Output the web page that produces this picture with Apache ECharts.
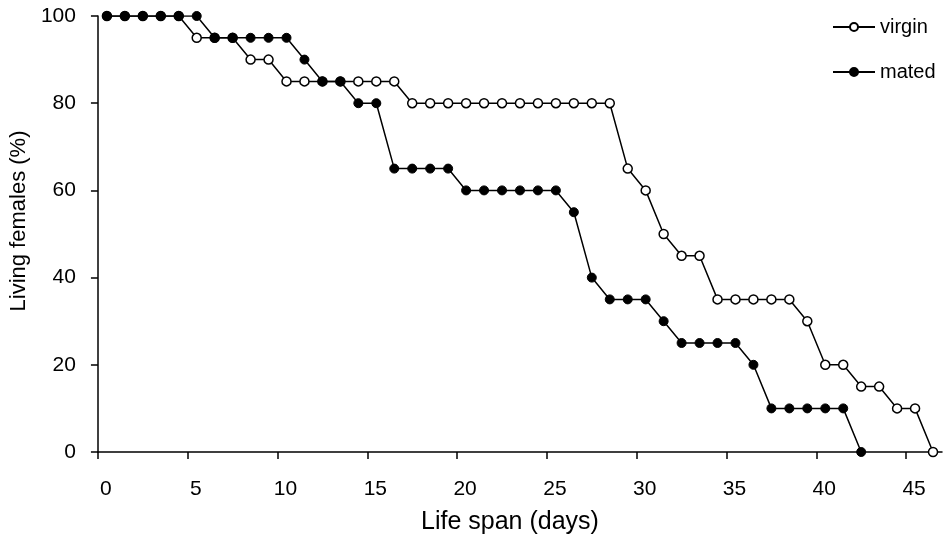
<!DOCTYPE html>
<html>
<head>
<meta charset="utf-8">
<script src="https://cdn.jsdelivr.net/npm/echarts@6/dist/echarts.min.js"></script>
<style>
  html, body { margin: 0; padding: 0; background: #fff; }
  #chart { width: 947px; height: 540px; }
</style>
</head>
<body>
<div id="chart"></div>
<script>
// survival curves
const days = [0.5, 1.5, 2.5, 3.5, 4.5, 5.5, 6.5, 7.5, 8.5, 9.5,
  10.5, 11.5, 12.5, 13.5, 14.5, 15.5, 16.5, 17.5, 18.5, 19.5,
  20.5, 21.5, 22.5, 23.5, 24.5, 25.5, 26.5, 27.5, 28.5, 29.5,
  30.5, 31.5, 32.5, 33.5, 34.5, 35.5, 36.5, 37.5, 38.5, 39.5,
  40.5, 41.5, 42.5, 43.5, 44.5, 45.5, 46.5];

const virgin = [100, 100, 100, 100, 100, 95, 95, 95, 90, 90,
  85, 85, 85, 85, 85, 85, 85, 80, 80, 80,
  80, 80, 80, 80, 80, 80, 80, 80, 80, 65,
  60, 50, 45, 45, 35, 35, 35, 35, 35, 30,
  20, 20, 15, 15, 10, 10, 0];

const mated = [100, 100, 100, 100, 100, 100, 95, 95, 95, 95,
  95, 90, 85, 85, 80, 80, 65, 65, 65, 65,
  60, 60, 60, 60, 60, 60, 55, 40, 35, 35,
  35, 30, 25, 25, 25, 25, 20, 10, 10, 10,
  10, 10, 0];

const xTicks = [0, 5, 10, 15, 20, 25, 30, 35, 40, 45];

const chart = echarts.init(document.getElementById("chart"));
const font = "'Liberation Sans', Arial, sans-serif";

function pairs(ys) {
  return ys.map((y, i) => [days[i], y]);
}

chart.setOption({
  animation: false,
  backgroundColor: "#fff",
  grid: { left: 96, right: 5, top: 16, bottom: 87 },
  legend: {
    orient: "vertical",
    left: 827,
    top: 12,
    itemWidth: 42,
    itemHeight: 10,
    itemGap: 25,
    textStyle: { fontFamily: font, fontSize: 20, color: "#000" },
    data: ["virgin", "mated"],
  },
  xAxis: {
    type: "value",
    min: 0,
    max: 47,
    name: "Life span (days)",
    nameLocation: "middle",
    nameGap: 58,
    nameTextStyle: { fontFamily: font, fontSize: 25, color: "#000", padding: [0, 20, 0, 0] },
    axisLine: { lineStyle: { color: "#000", width: 1.5 } },
    axisTick: { length: 7, lineStyle: { color: "#000", width: 1.5 }, customValues: xTicks },
    axisLabel: {
      customValues: xTicks,
      fontFamily: font, fontSize: 21, color: "#000",
      margin: 27, padding: [0, 0, 0, 16],
    },
    splitLine: { show: false },
  },
  yAxis: {
    type: "value",
    min: 0,
    max: 100,
    interval: 20,
    name: "Living females (%)",
    nameLocation: "middle",
    nameGap: 57,
    nameTextStyle: { fontFamily: font, fontSize: 22, color: "#000", padding: [0, 0, 0, 26] },
    axisLine: { show: true, lineStyle: { color: "#000", width: 1.5 } },
    axisTick: { show: true, length: 7, lineStyle: { color: "#000", width: 1.5 } },
    axisLabel: { fontFamily: font, fontSize: 21, color: "#000", margin: 22, padding: [5, 0, 0, 0] },
    splitLine: { show: false },
  },
  series: [
    {
      name: "virgin",
      type: "line",
      data: pairs(virgin),
      symbol: "circle",
      symbolSize: 9,
      showAllSymbol: true,
      lineStyle: { color: "#000", width: 1.5 },
      itemStyle: { color: "#fff", borderColor: "#000", borderWidth: 1.5 },
    },
    {
      name: "mated",
      type: "line",
      data: pairs(mated),
      symbol: "circle",
      symbolSize: 9,
      showAllSymbol: true,
      lineStyle: { color: "#000", width: 1.5 },
      itemStyle: { color: "#000", borderColor: "#000", borderWidth: 1 },
    },
  ],
});
</script>
</body>
</html>
